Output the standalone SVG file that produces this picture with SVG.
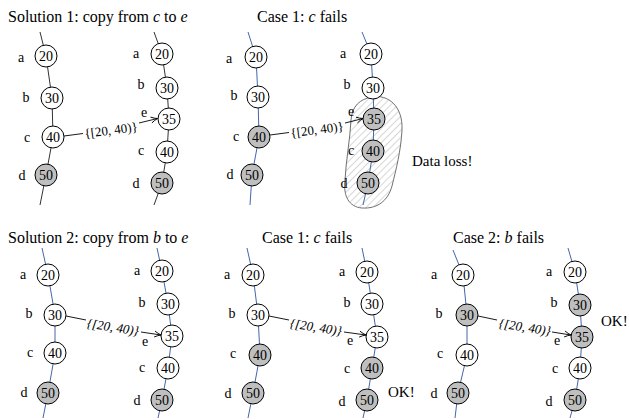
<svg xmlns="http://www.w3.org/2000/svg" width="629" height="420" viewBox="0 0 629 420">
<style>
text{font-family:"Liberation Serif","Times New Roman",serif;fill:#000}
.title{font-family:"Liberation Serif","Times New Roman",serif;font-size:16px}
.big{font-family:"Liberation Serif","Times New Roman",serif;font-size:15px}
.num{font-family:"Liberation Serif","Times New Roman",serif;font-size:14px;text-anchor:middle}
.lab{font-family:"Liberation Serif","Times New Roman",serif;font-size:14px;text-anchor:middle}
.al{font-family:"Liberation Serif","Times New Roman",serif;font-size:13px;text-anchor:middle}
.it{font-style:italic}
circle{stroke:#000;stroke-width:1}
.w{fill:#fff}
.g{fill:#bfbfbf}
.ring{fill:none;stroke:#4466aa;stroke-width:1}
.ringk{fill:none;stroke:#333;stroke-width:1}
.arr{fill:none;stroke:#000;stroke-width:0.9}
</style>
<defs>
<marker id="ah" viewBox="-8 -5 10 10" refX="0" refY="0" markerWidth="10" markerHeight="10" markerUnits="userSpaceOnUse" orient="auto">
<path d="M-6.5,-3 Q-3,-0.8 0,0 Q-3,0.8 -6.5,3" fill="none" stroke="#000" stroke-width="0.9"/>
</marker>
<pattern id="hatch" width="5" height="5" patternUnits="userSpaceOnUse" patternTransform="rotate(45)">
<line x1="0" y1="0" x2="0" y2="5" stroke="#9a9a9a" stroke-width="0.8"/>
</pattern>
</defs>
<rect width="629" height="420" fill="#fff"/>

<g id="titles">
<text class="title" x="8" y="22">Solution 1: copy from <tspan class="it">c</tspan> to <tspan class="it">e</tspan></text>
<text class="title" x="257" y="22">Case 1: <tspan class="it">c</tspan> fails</text>
<text class="title" x="8" y="243">Solution 2: copy from <tspan class="it">b</tspan> to <tspan class="it">e</tspan></text>
<text class="title" x="262" y="243">Case 1: <tspan class="it">c</tspan> fails</text>
<text class="title" x="453" y="243">Case 2: <tspan class="it">b</tspan> fails</text>
</g>

<g id="dataloss">
<path d="M372,97 C388,94 403,106 402,130 C401,150 396,170 392,186 C388,201 377,209 362,208 C349,207 343,196 345,180 C346,160 350,140 351,120 C352,106 360,99 372,97 Z" fill="url(#hatch)" stroke="#707070" stroke-width="1"/>
<text class="big" x="412" y="166">Data loss!</text>
</g>

<g id="connectors">
<polyline class="ringk" points="40,32 46,56 52,98 53,137 46,175 40,205"/>
<polyline class="ringk" points="154,32 162,54 167,88 169,119 167,152 162,183 154,205"/>
<polyline class="ring" points="248,32 256,57 258,97 259,137 252,175 250,205"/>
<polyline class="ring" points="362,32 371,54 373,88 374,119 373,151 368,183 363,205"/>
<polyline class="ring" points="42,248 48,275 55,315 55,353 48,393 43,418"/>
<polyline class="ring" points="157,248 162,271 168,304 172,336 168,368 162,400 158,418"/>
<polyline class="ring" points="247,248 253,275 258,315 260,355 253,393 248,418"/>
<polyline class="ring" points="362,248 367,272 372,304 377,337 372,368 367,400 363,418"/>
<polyline class="ring" points="453,250 463,275 467,315 467,355 458,393 455,418"/>
<polyline class="ring" points="568,248 575,272 580,305 582,337 580,368 575,400 570,418"/>

<line class="arr" x1="64" y1="136" x2="83" y2="133.5"/>
<text class="al" x="111" y="134.5" transform="rotate(-7.5 111 130)">{[20, 40)}</text>
<line class="arr" x1="139" y1="123" x2="157.5" y2="118.5" marker-end="url(#ah)"/>

<line class="arr" x1="270" y1="135" x2="289" y2="132.5"/>
<text class="al" x="317" y="134" transform="rotate(-7.5 317 129.5)">{[20, 40)}</text>
<line class="arr" x1="345" y1="123" x2="363" y2="118.5" marker-end="url(#ah)"/>

<line class="arr" x1="66" y1="316" x2="86" y2="320"/>
<text class="al it" x="113" y="331.5" transform="rotate(8.5 113 327)">{[20, 40)}</text>
<line class="arr" x1="141" y1="332" x2="161" y2="335" marker-end="url(#ah)"/>

<line class="arr" x1="269" y1="316" x2="289" y2="320"/>
<text class="al it" x="316" y="331.5" transform="rotate(8.5 316 327)">{[20, 40)}</text>
<line class="arr" x1="344" y1="332" x2="366" y2="335" marker-end="url(#ah)"/>

<line class="arr" x1="478" y1="316" x2="497" y2="320"/>
<text class="al it" x="525" y="331.5" transform="rotate(8.5 525 327)">{[20, 40)}</text>
<line class="arr" x1="552" y1="332" x2="571" y2="335" marker-end="url(#ah)"/>
</g>

<g id="p1-l-a"><circle class="w" cx="46" cy="56" r="11"/><text class="num" x="46" y="61">20</text><text class="lab" x="21" y="62">a</text></g>
<g id="p1-l-b"><circle class="w" cx="52" cy="98" r="11"/><text class="num" x="52" y="103">30</text><text class="lab" x="26" y="102">b</text></g>
<g id="p1-l-c"><circle class="w" cx="53" cy="137" r="11"/><text class="num" x="53" y="142">40</text><text class="lab" x="27" y="142">c</text></g>
<g id="p1-l-d"><circle class="g" cx="46" cy="175" r="11"/><text class="num" x="46" y="180">50</text><text class="lab" x="22" y="180">d</text></g>
<g id="p1-r-a"><circle class="w" cx="162" cy="54" r="11"/><text class="num" x="162" y="59">20</text><text class="lab" x="136" y="58">a</text></g>
<g id="p1-r-b"><circle class="w" cx="167" cy="88" r="11"/><text class="num" x="167" y="93">30</text><text class="lab" x="141" y="89">b</text></g>
<g id="p1-r-e"><circle class="w" cx="169" cy="119" r="11"/><text class="num" x="169" y="124">35</text><text class="lab" x="144" y="117">e</text></g>
<g id="p1-r-c"><circle class="w" cx="167" cy="152" r="11"/><text class="num" x="167" y="157">40</text><text class="lab" x="141" y="155">c</text></g>
<g id="p1-r-d"><circle class="g" cx="162" cy="183" r="11"/><text class="num" x="162" y="188">50</text><text class="lab" x="136" y="188">d</text></g>

<g id="p2-l-a"><circle class="w" cx="256" cy="57" r="11"/><text class="num" x="256" y="62">20</text><text class="lab" x="229" y="63">a</text></g>
<g id="p2-l-b"><circle class="w" cx="258" cy="97" r="11"/><text class="num" x="258" y="102">30</text><text class="lab" x="234" y="100">b</text></g>
<g id="p2-l-c"><circle class="g" cx="259" cy="137" r="11"/><text class="num" x="259" y="142">40</text><text class="lab" x="236" y="141">c</text></g>
<g id="p2-l-d"><circle class="g" cx="252" cy="175" r="11"/><text class="num" x="252" y="180">50</text><text class="lab" x="230" y="179">d</text></g>
<g id="p2-r-a"><circle class="w" cx="371" cy="54" r="11"/><text class="num" x="371" y="59">20</text><text class="lab" x="343" y="58">a</text></g>
<g id="p2-r-b"><circle class="w" cx="373" cy="88" r="11"/><text class="num" x="373" y="93">30</text><text class="lab" x="347" y="89">b</text></g>
<g id="p2-r-e"><circle class="g" cx="374" cy="119" r="11"/><text class="num" x="374" y="124">35</text><text class="lab" x="351" y="116">e</text></g>
<g id="p2-r-c"><circle class="g" cx="373" cy="151" r="11"/><text class="num" x="373" y="156">40</text><text class="lab" x="351" y="155">c</text></g>
<g id="p2-r-d"><circle class="g" cx="368" cy="183" r="11"/><text class="num" x="368" y="188">50</text><text class="lab" x="344" y="188">d</text></g>

<g id="p3-l-a"><circle class="w" cx="48" cy="275" r="11"/><text class="num" x="48" y="280">20</text><text class="lab" x="23" y="279">a</text></g>
<g id="p3-l-b"><circle class="w" cx="55" cy="315" r="11"/><text class="num" x="55" y="320">30</text><text class="lab" x="29" y="318">b</text></g>
<g id="p3-l-c"><circle class="w" cx="55" cy="353" r="11"/><text class="num" x="55" y="358">40</text><text class="lab" x="30" y="357">c</text></g>
<g id="p3-l-d"><circle class="g" cx="48" cy="393" r="11"/><text class="num" x="48" y="398">50</text><text class="lab" x="24" y="397">d</text></g>
<g id="p3-r-a"><circle class="w" cx="162" cy="271" r="11"/><text class="num" x="162" y="276">20</text><text class="lab" x="137" y="275">a</text></g>
<g id="p3-r-b"><circle class="w" cx="168" cy="304" r="11"/><text class="num" x="168" y="309">30</text><text class="lab" x="142" y="307">b</text></g>
<g id="p3-r-e"><circle class="w" cx="172" cy="336" r="11"/><text class="num" x="172" y="341">35</text><text class="lab" x="145" y="346">e</text></g>
<g id="p3-r-c"><circle class="w" cx="168" cy="368" r="11"/><text class="num" x="168" y="373">40</text><text class="lab" x="142" y="372">c</text></g>
<g id="p3-r-d"><circle class="g" cx="162" cy="400" r="11"/><text class="num" x="162" y="405">50</text><text class="lab" x="137" y="405">d</text></g>

<g id="p4-l-a"><circle class="w" cx="253" cy="275" r="11"/><text class="num" x="253" y="280">20</text><text class="lab" x="227" y="279">a</text></g>
<g id="p4-l-b"><circle class="w" cx="258" cy="315" r="11"/><text class="num" x="258" y="320">30</text><text class="lab" x="232" y="318">b</text></g>
<g id="p4-l-c"><circle class="g" cx="260" cy="355" r="11"/><text class="num" x="260" y="360">40</text><text class="lab" x="233" y="358">c</text></g>
<g id="p4-l-d"><circle class="g" cx="253" cy="393" r="11"/><text class="num" x="253" y="398">50</text><text class="lab" x="228" y="398">d</text></g>
<g id="p4-r-a"><circle class="w" cx="367" cy="272" r="11"/><text class="num" x="367" y="277">20</text><text class="lab" x="342" y="276">a</text></g>
<g id="p4-r-b"><circle class="w" cx="372" cy="304" r="11"/><text class="num" x="372" y="309">30</text><text class="lab" x="347" y="307">b</text></g>
<g id="p4-r-e"><circle class="w" cx="377" cy="337" r="11"/><text class="num" x="377" y="342">35</text><text class="lab" x="350" y="345">e</text></g>
<g id="p4-r-c"><circle class="g" cx="372" cy="368" r="11"/><text class="num" x="372" y="373">40</text><text class="lab" x="347" y="373">c</text></g>
<g id="p4-r-d"><circle class="g" cx="367" cy="400" r="11"/><text class="num" x="367" y="405">50</text><text class="lab" x="342" y="406">d</text></g>
<text class="big" x="388" y="397">OK!</text>

<g id="p5-l-a"><circle class="w" cx="463" cy="275" r="11"/><text class="num" x="463" y="280">20</text><text class="lab" x="434" y="279">a</text></g>
<g id="p5-l-b"><circle class="g" cx="467" cy="315" r="11"/><text class="num" x="467" y="320">30</text><text class="lab" x="439" y="318">b</text></g>
<g id="p5-l-c"><circle class="w" cx="467" cy="355" r="11"/><text class="num" x="467" y="360">40</text><text class="lab" x="440" y="358">c</text></g>
<g id="p5-l-d"><circle class="g" cx="458" cy="393" r="11"/><text class="num" x="458" y="398">50</text><text class="lab" x="434" y="398">d</text></g>
<g id="p5-r-a"><circle class="w" cx="575" cy="272" r="11"/><text class="num" x="575" y="277">20</text><text class="lab" x="549" y="276">a</text></g>
<g id="p5-r-b"><circle class="g" cx="580" cy="305" r="11"/><text class="num" x="580" y="310">30</text><text class="lab" x="554" y="307">b</text></g>
<g id="p5-r-e"><circle class="g" cx="582" cy="337" r="11"/><text class="num" x="582" y="342">35</text><text class="lab" x="557" y="345">e</text></g>
<g id="p5-r-c"><circle class="w" cx="580" cy="368" r="11"/><text class="num" x="580" y="373">40</text><text class="lab" x="555" y="373">c</text></g>
<g id="p5-r-d"><circle class="g" cx="575" cy="400" r="11"/><text class="num" x="575" y="405">50</text><text class="lab" x="549" y="406">d</text></g>
<text class="big" x="601" y="326">OK!</text>
</svg>
